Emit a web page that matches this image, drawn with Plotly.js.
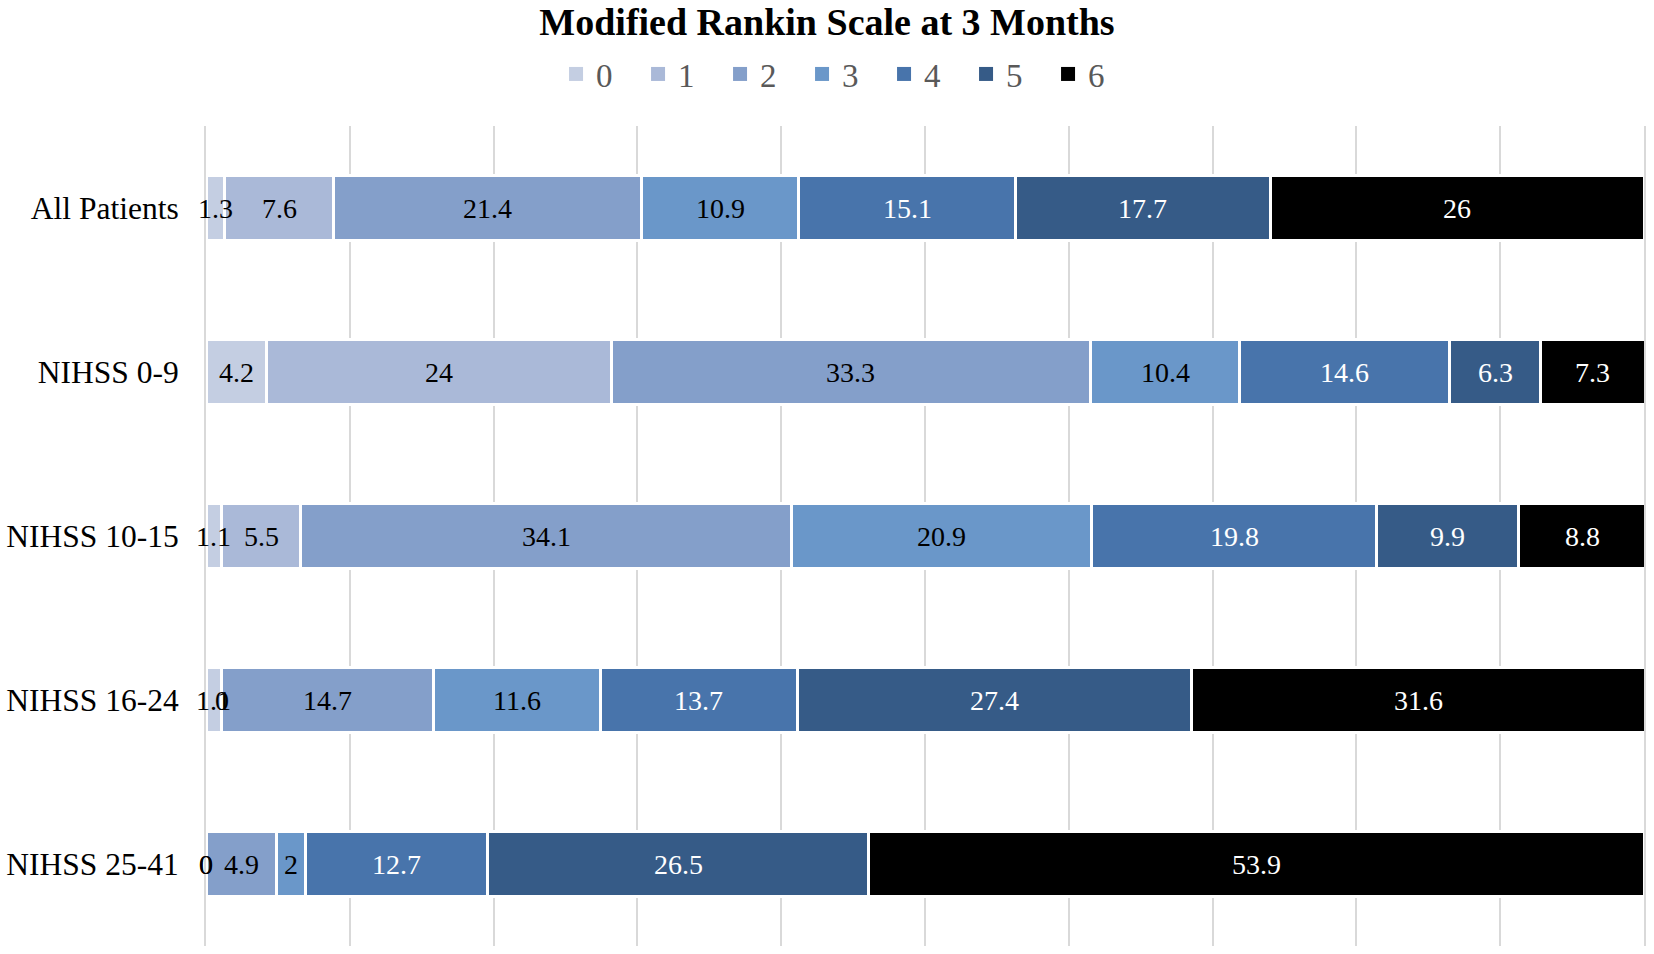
<!DOCTYPE html>
<html><head><meta charset="utf-8">
<script src="https://cdn.plot.ly/plotly-3.0.1.min.js"></script>
<style>html,body{margin:0;padding:0;background:#fff}#chart{width:1654px;height:954px}</style>
</head><body><div id="chart"></div>
<script>
// mRS distribution (%) at 3 months, by NIHSS band
const groups=["All Patients","NIHSS 0-9","NIHSS 10-15","NIHSS 16-24","NIHSS 25-41"];
const mrs0=[1.3,4.2,1.1,1.1,0];
const mrs1=[7.6,24,5.5,0,0];
const mrs2=[21.4,33.3,34.1,14.7,4.9];
const mrs3=[10.9,10.4,20.9,11.6,2];
const mrs4=[15.1,14.6,19.8,13.7,12.7];
const mrs5=[17.7,6.3,9.9,27.4,26.5];
const mrs6=[26,7.3,8.8,31.6,53.9];
const scores=["0","1","2","3","4","5","6"];
const colors=["#c4cee2","#aab9d8","#849fca","#6a97c9","#4874ab","#365b87","#000000"];
const labelColors=["#000","#000","#000","#000","#fff","#fff","#fff"];

const FONT="Liberation Serif, Times New Roman, serif";
const series=[mrs0,mrs1,mrs2,mrs3,mrs4,mrs5,mrs6];

const traces=series.map((vals,i)=>({
  type:"bar",orientation:"h",name:scores[i],y:groups,x:vals,showlegend:false,
  marker:{color:colors[i],line:{color:"#fff",width:3}},
  hoverinfo:"x+name"
}));
// legend-only entries so the swatches are full squares (bar borders would eat them)
scores.forEach((s,i)=>traces.push({type:"scatter",mode:"markers",name:s,x:[null],y:[null],
  marker:{symbol:"square",size:14,color:colors[i]},hoverinfo:"skip"}));

// data labels centred on each segment; they spill over narrow ones like Excel's do
const annotations=[];
const cum=groups.map(()=>0);
series.forEach((vals,i)=>{
  vals.forEach((v,g)=>{
    annotations.push({x:cum[g]+v/2,y:groups[g],xref:"x",yref:"y",text:String(v),showarrow:false,
      font:{family:FONT,size:28,color:v===0?"#000":labelColors[i]}});
    cum[g]+=v;
  });
});

const layout={
  width:1654,height:954,
  paper_bgcolor:"#fff",plot_bgcolor:"#fff",
  font:{family:FONT,color:"#000"},
  margin:{l:206,r:10,t:126,b:8},
  barmode:"stack",bargap:0.6,
  title:{text:"<b>Modified Rankin Scale at 3 Months</b>",font:{family:FONT,size:38,color:"#000"},
    x:0.5,xref:"container",y:1-8/954,yref:"container",yanchor:"top"},
  legend:{orientation:"h",traceorder:"normal",xref:"container",x:0.5097,xanchor:"center",
    yref:"container",y:1-46/954,yanchor:"top",font:{family:FONT,size:33,color:"#595959"},
    entrywidth:37,entrywidthmode:"pixels",itemwidth:30},
  xaxis:{range:[0,100],dtick:10,showticklabels:false,ticks:"",showgrid:true,gridcolor:"#d9d9d9",gridwidth:2,
    zeroline:false,showline:false,fixedrange:true},
  yaxis:{autorange:"reversed",ticks:"",showgrid:false,zeroline:false,
    showline:true,mirror:true,linecolor:"#d9d9d9",linewidth:2,layer:"below traces",
    tickfont:{family:FONT,size:31.5,color:"#000"},ticklabelstandoff:19},
  annotations:annotations
};
Plotly.newPlot("chart",traces,layout,{displayModeBar:false,staticPlot:true});
</script>
</body></html>
